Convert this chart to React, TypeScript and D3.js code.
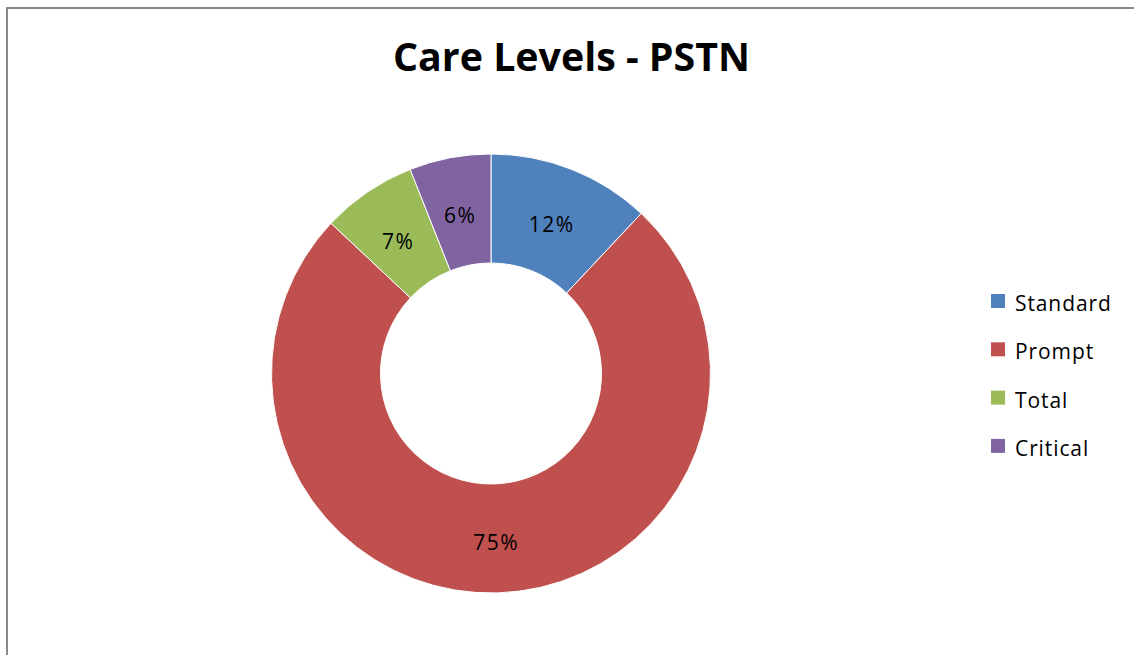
import { useEffect, useRef } from "react";
import * as d3 from "d3";

const categories = ["Standard", "Prompt", "Total", "Critical"];
const values = [12, 75, 7, 6];
const colors = ["#4F81BD", "#C0504D", "#9BBB59", "#8064A2"];
const title = "Care Levels - PSTN";

const W = 1134;
const H = 655;

const App = () => {
  const ref = useRef<SVGSVGElement>(null);

  useEffect(() => {
    const svg = d3.select(ref.current);
    svg.selectAll("*").remove();

    // chart frame (right / bottom edges fall outside the picture)
    svg
      .append("rect")
      .attr("x", 7)
      .attr("y", 8)
      .attr("width", W + 100)
      .attr("height", H + 100)
      .attr("fill", "#fff")
      .attr("stroke", "#898989")
      .attr("stroke-width", 2);

    svg
      .append("text")
      .attr("x", 571.5)
      .attr("y", 71)
      .attr("text-anchor", "middle")
      .attr("font-family", "'Open Sans', sans-serif")
      .attr("font-weight", "bold")
      .attr("font-size", 40)
      .attr("textLength", 357)
      .attr("lengthAdjust", "spacingAndGlyphs")
      .text(title);

    const cx = 491;
    const cy = 373.5;
    const outer = 219.5;
    const inner = 110.5;

    const pie = d3
      .pie<number>()
      .sort(null)
      .value((d) => d);
    const arcs = pie(values);

    const arc = d3
      .arc<d3.PieArcDatum<number>>()
      .innerRadius(inner)
      .outerRadius(outer);
    const labelArc = d3
      .arc<d3.PieArcDatum<number>>()
      .innerRadius((inner + outer) / 2)
      .outerRadius((inner + outer) / 2);

    const g = svg.append("g").attr("transform", `translate(${cx},${cy})`);

    g.selectAll("path")
      .data(arcs)
      .join("path")
      .attr("d", arc)
      .attr("fill", (_, i) => colors[i])
      .attr("stroke", "#fff")
      .attr("stroke-width", 1);

    const total = d3.sum(values);
    g.selectAll("text")
      .data(arcs)
      .join("text")
      .attr("x", (d) => labelArc.centroid(d)[0])
      .attr("y", (d) => labelArc.centroid(d)[1] + 4)
      .attr("text-anchor", "middle")
      .attr("dominant-baseline", "central")
      .attr("font-family", "'Open Sans', sans-serif")
      .attr("font-size", 21)
      .attr("letter-spacing", 1.5)
      .attr("fill", "#000")
      .text((d) => `${Math.round((d.data / total) * 100)}%`);

    // legend
    const legend = svg
      .append("g")
      .selectAll("g")
      .data(categories)
      .join("g")
      .attr("transform", (_, i) => `translate(991,${294 + i * 48.3})`);

    legend
      .append("rect")
      .attr("width", 14)
      .attr("height", 14)
      .attr("fill", (_, i) => colors[i]);

    legend
      .append("text")
      .attr("x", 24)
      .attr("y", 9)
      .attr("dominant-baseline", "central")
      .attr("font-family", "'Open Sans', sans-serif")
      .attr("font-size", 21)
      .attr("letter-spacing", 0.9)
      .attr("fill", "#000")
      .text((d) => d);
  }, []);

  return (
    <svg
      ref={ref}
      width={W}
      height={H}
      style={{ position: "absolute", left: 0, top: 0, display: "block" }}
    />
  );
};

export default App;
